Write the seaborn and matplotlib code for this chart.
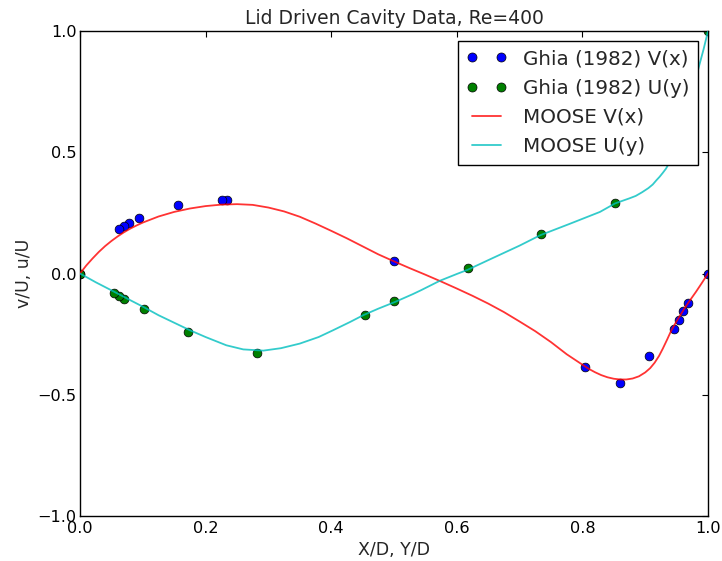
import seaborn as sns
import matplotlib.pyplot as plt
import pandas as pd
from matplotlib.lines import Line2D

# Ghia et al. (1982), Re=400 centreline data
ghia_x = [1.0000, 0.9688, 0.9609, 0.9531, 0.9453, 0.9063, 0.8594, 0.8047,
          0.5000, 0.2344, 0.2266, 0.1563, 0.0938, 0.0781, 0.0703, 0.0625, 0.0000]
ghia_v = [0.0, -0.12146, -0.15663, -0.19254, -0.22847, -0.33827, -0.44993, -0.38598,
          0.05188, 0.30174, 0.30203, 0.28124, 0.22965, 0.20920, 0.19713, 0.18360, 0.0]
ghia_y = [1.0000, 0.9766, 0.9688, 0.9609, 0.9531, 0.8516, 0.7344, 0.6172,
          0.5000, 0.4531, 0.2813, 0.1719, 0.1016, 0.0703, 0.0625, 0.0547, 0.0000]
ghia_u = [1.0, 0.75837, 0.68439, 0.61756, 0.55892, 0.29093, 0.16256, 0.02135,
          -0.11477, -0.17119, -0.32726, -0.24299, -0.14612, -0.10338, -0.09266, -0.08186, 0.0]

# MOOSE solution
moose_x = [0.0, 0.01, 0.02, 0.03, 0.04, 0.05, 0.06, 0.07, 0.08, 0.09, 0.10, 0.125, 0.15,
           0.175, 0.20, 0.225, 0.25, 0.275, 0.30, 0.325, 0.35, 0.375, 0.40, 0.425, 0.45,
           0.475, 0.50, 0.525, 0.55, 0.575, 0.60, 0.625, 0.65, 0.675, 0.70, 0.725, 0.75,
           0.775, 0.80, 0.81, 0.82, 0.83, 0.84, 0.85, 0.86, 0.87, 0.88, 0.89, 0.90,
           0.908, 0.915, 0.922, 0.928, 0.935, 0.941, 0.947, 0.952, 0.958, 0.963, 0.972,
           0.981, 0.99, 1.0]
moose_v = [0.0, 0.033, 0.062, 0.089, 0.113, 0.134, 0.153, 0.170, 0.185, 0.198, 0.210,
           0.235, 0.254, 0.268, 0.278, 0.284, 0.286, 0.283, 0.272, 0.256, 0.234, 0.206,
           0.176, 0.145, 0.112, 0.079, 0.050, 0.022, -0.005, -0.033, -0.062, -0.092,
           -0.124, -0.159, -0.198, -0.238, -0.283, -0.333, -0.376, -0.393, -0.407,
           -0.419, -0.428, -0.434, -0.437, -0.437, -0.433, -0.424, -0.408, -0.390,
           -0.368, -0.340, -0.310, -0.272, -0.238, -0.210, -0.188, -0.163, -0.142,
           -0.108, -0.075, -0.040, 0.0]
moose_y = [0.0, 0.025, 0.055, 0.08, 0.101, 0.125, 0.15, 0.175, 0.20, 0.233, 0.26, 0.292,
           0.32, 0.35, 0.38, 0.403, 0.43, 0.451, 0.475, 0.502, 0.53, 0.543, 0.573, 0.60,
           0.617, 0.65, 0.70, 0.733, 0.78, 0.828, 0.852, 0.875, 0.885, 0.895, 0.905,
           0.912, 0.918, 0.923, 0.928, 0.933, 0.937, 0.941, 0.945, 0.953, 0.961, 0.969,
           0.977, 0.985, 0.993, 1.0]
moose_u = [0.0, -0.036, -0.076, -0.110, -0.138, -0.172, -0.203, -0.234, -0.262, -0.296,
           -0.313, -0.318, -0.308, -0.289, -0.262, -0.234, -0.200, -0.172, -0.145,
           -0.117, -0.085, -0.069, -0.030, -0.002, 0.015, 0.055, 0.115, 0.158, 0.205,
           0.254, 0.289, 0.310, 0.320, 0.335, 0.352, 0.367, 0.385, 0.399, 0.415, 0.432,
           0.450, 0.470, 0.495, 0.550, 0.615, 0.688, 0.765, 0.848, 0.925, 1.0]

sns.set_style('white')
plt.rcParams['font.family'] = ['DejaVu Sans']

fig = plt.figure(figsize=(7.22, 5.61), dpi=100)
ax = fig.add_axes([80 / 722, 1 - 516 / 561, 628 / 722, 485 / 561])

sns.scatterplot(x=ghia_x, y=ghia_v, color='b', edgecolor='k', linewidth=0.5, s=40, ax=ax, zorder=2)
sns.scatterplot(x=ghia_y, y=ghia_u, color='g', edgecolor='k', linewidth=0.5, s=40, ax=ax, zorder=2)
sns.lineplot(x=moose_x, y=moose_v, color='r', alpha=0.8, lw=1.3, sort=False, estimator=None, ax=ax, zorder=3)
sns.lineplot(x=moose_y, y=moose_u, color='c', alpha=0.8, lw=1.3, sort=False, estimator=None, ax=ax, zorder=3)

ax.set_xlim(0, 1)
ax.set_ylim(-1, 1)
ax.set_xticks([0.0, 0.2, 0.4, 0.6, 0.8, 1.0])
ax.set_yticks([-1.0, -0.5, 0.0, 0.5, 1.0])
ax.tick_params(direction='in', top=True, right=True, length=4, width=0.8, labelsize=11.6, colors='k')
ax.tick_params(axis='y', pad=2.5)
for s in ax.spines.values():
    s.set_color('k')
    s.set_linewidth(1.0)

ax.set_title('Lid Driven Cavity Data, Re=400', fontsize=13.5, pad=5)
ax.set_xlabel('X/D, Y/D', fontsize=12.5, labelpad=4)
ax.set_ylabel('v/U, u/U', fontsize=12.5, labelpad=3.5)

handles = [
    Line2D([], [], ls='none', marker='o', ms=6.5, mfc='b', mec='k', mew=0.5),
    Line2D([], [], ls='none', marker='o', ms=6.5, mfc='g', mec='k', mew=0.5),
    Line2D([], [], color='r', alpha=0.8, lw=1.3),
    Line2D([], [], color='c', alpha=0.8, lw=1.3),
]
labels = ['Ghia (1982) V(x)', 'Ghia (1982) U(y)', 'MOOSE V(x)', 'MOOSE U(y)']
leg = ax.legend(handles, labels, loc='upper right', numpoints=2, fontsize=14.3,
                handlelength=2.05, handletextpad=0.83, borderpad=0.42, labelspacing=0.52,
                borderaxespad=0.5, fancybox=False, framealpha=1, edgecolor='k')
leg.get_frame().set_linewidth(1.0)

fig.savefig('out.png', dpi=100)
